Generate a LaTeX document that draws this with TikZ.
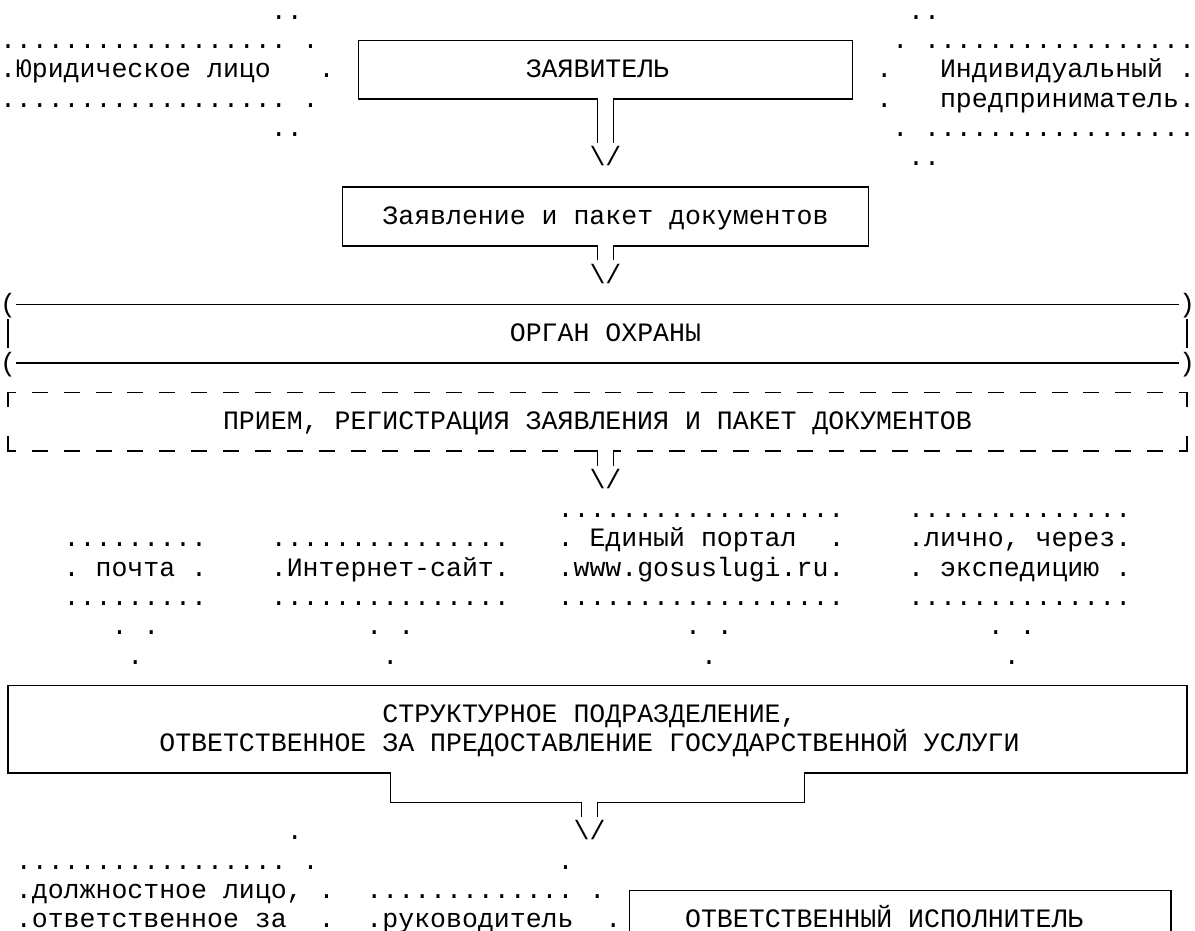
\documentclass[tikz,border=0pt]{standalone}
\usepackage{fontspec}
\newfontfamily\monof{Liberation Mono}
% grid helpers: 75 columns of 15.933pt, rows of 29.3pt
\newcommand\mcx[1]{#1*15.933+7.967}
\newcommand\mcl[1]{#1*15.933}
\newcommand\mly[1]{-11.4-29.3*#1}
\newcommand\mlt[1]{3.25-29.3*#1}
\newcommand\mlb[1]{-26.05-29.3*#1}
\newcommand\mby[1]{-19.4-29.3*#1}
\newcommand\tx[4]{\node[txt] (#1) at ({\mcl{#2}},{\mby{#3}}) {#4};}
\tikzset{
  txt/.style={anchor=base west, inner sep=0pt, outer sep=0pt,
    font=\monof\fontsize{26.55}{29.3}\selectfont\frenchspacing},
  boxline/.style={line width=1.6pt, line join=miter, black},
  dashline/.style={boxline, dash pattern=on 15.933pt off 15.933pt}
}
\begin{document}
\begin{tikzpicture}[x=1pt,y=1pt]
\fill[white] (0,0) rectangle (1195,-931);
\useasboundingbox (0,0) rectangle (1195,-931);

% ---------- top row: applicants ----------
\tx{ula}{17}{0}{..}
\tx{ulb}{0}{1}{..................}
\tx{ulc}{19}{1}{.}
\tx{ul}{0}{2}{.Юридическое лицо}
\tx{uld}{20}{2}{.}
\tx{ule}{0}{3}{..................}
\tx{ulf}{19}{3}{.}
\tx{ulg}{17}{4}{..}

\tx{ura}{57}{0}{..}
\tx{urb}{56}{1}{.}
\tx{urc}{58}{1}{.................}
\tx{urd}{55}{2}{.}
\tx{ip1}{59}{2}{Индивидуальный}
\tx{ure}{74}{2}{.}
\tx{urf}{55}{3}{.}
\tx{ip2}{59}{3}{предприниматель.}
\tx{urg}{56}{4}{.}
\tx{urh}{58}{4}{.................}
\tx{uri}{57}{5}{..}

% ЗАЯВИТЕЛЬ
\tx{zay}{33}{2}{ЗАЯВИТЕЛЬ}
\draw[boxline] ({\mcx{37}},{\mlb{4}}) -- ({\mcx{37}},{\mly{3}}) -- ({\mcx{22}},{\mly{3}})
  -- ({\mcx{22}},{\mly{1}}) -- ({\mcx{53}},{\mly{1}}) -- ({\mcx{53}},{\mly{3}})
  -- ({\mcx{38}},{\mly{3}}) -- ({\mcx{38}},{\mlb{4}});
\tx{ar1}{37}{5}{\textbackslash/}

% Заявление и пакет документов
\tx{zpd}{24}{7}{Заявление и пакет документов}
\draw[boxline] ({\mcx{37}},{\mlb{8}}) -- ({\mcx{37}},{\mly{8}}) -- ({\mcx{21}},{\mly{8}})
  -- ({\mcx{21}},{\mly{6}}) -- ({\mcx{54}},{\mly{6}}) -- ({\mcx{54}},{\mly{8}})
  -- ({\mcx{38}},{\mly{8}}) -- ({\mcx{38}},{\mlb{8}});
\tx{ar2}{37}{9}{\textbackslash/}

% ОРГАН ОХРАНЫ
\tx{pa1}{0}{10}{(}
\tx{pa2}{74}{10}{)}
\tx{pa3}{0}{12}{(}
\tx{pa4}{74}{12}{)}
\tx{org}{32}{11}{ОРГАН ОХРАНЫ}
\draw[boxline] ({\mcl{1}},{\mly{10}}) -- ({\mcl{74}},{\mly{10}});
\draw[boxline] ({\mcl{1}},{\mly{12}}) -- ({\mcl{74}},{\mly{12}});
\draw[boxline] ({\mcx{0}},{\mlt{11}}) -- ({\mcx{0}},{\mlb{11}});
\draw[boxline] ({\mcx{74}},{\mlt{11}}) -- ({\mcx{74}},{\mlb{11}});

% dashed box ПРИЕМ
\tx{pri}{14}{14}{ПРИЕМ, РЕГИСТРАЦИЯ ЗАЯВЛЕНИЯ И ПАКЕТ ДОКУМЕНТОВ}
\draw[boxline] ({\mcx{0}},{\mlb{13}}) -- ({\mcx{0}},{\mly{13}}) -- ({\mcl{1}},{\mly{13}});
\draw[dashline] ({\mcl{2}},{\mly{13}}) -- ({\mcl{73}},{\mly{13}});
\draw[boxline] ({\mcl{74}},{\mly{13}}) -- ({\mcx{74}},{\mly{13}}) -- ({\mcx{74}},{\mlb{13}});
\draw[boxline] ({\mcx{0}},{\mlt{15}}) -- ({\mcx{0}},{\mly{15}}) -- ({\mcl{1}},{\mly{15}});
\draw[dashline] ({\mcl{2}},{\mly{15}}) -- ({\mcl{35}},{\mly{15}});
\draw[boxline] ({\mcl{36}},{\mly{15}}) -- ({\mcx{37}},{\mly{15}}) -- ({\mcx{37}},{\mlb{15}});
\draw[boxline] ({\mcx{38}},{\mlb{15}}) -- ({\mcx{38}},{\mly{15}}) -- ({\mcl{39}},{\mly{15}});
\draw[dashline] ({\mcl{40}},{\mly{15}}) -- ({\mcl{73}},{\mly{15}});
\draw[boxline] ({\mcl{74}},{\mly{15}}) -- ({\mcx{74}},{\mly{15}}) -- ({\mcx{74}},{\mlt{15}});
\tx{ar3}{37}{16}{\textbackslash/}

% ---------- channels ----------
\tx{ea}{35}{17}{..................}
\tx{la}{57}{17}{..............}
\tx{pa}{4}{18}{.........}
\tx{ia}{17}{18}{...............}
\tx{eb}{35}{18}{. Единый портал}
\tx{ec}{52}{18}{.}
\tx{lb}{57}{18}{.лично, через.}
\tx{pb}{4}{19}{. почта .}
\tx{ib}{17}{19}{.Интернет-сайт.}
\tx{ed}{35}{19}{.www.gosuslugi.ru.}
\tx{lc}{57}{19}{. экспедицию .}
\tx{pc}{4}{20}{.........}
\tx{ic}{17}{20}{...............}
\tx{ee}{35}{20}{..................}
\tx{ld}{57}{20}{..............}
\tx{pd}{7}{21}{. .}
\tx{id}{23}{21}{. .}
\tx{ef}{43}{21}{. .}
\tx{le}{62}{21}{. .}
\tx{pe}{8}{22}{.}
\tx{ie}{24}{22}{.}
\tx{eg}{44}{22}{.}
\tx{lf}{63}{22}{.}

% ---------- structural unit ----------
\tx{st1}{24}{24}{СТРУКТУРНОЕ ПОДРАЗДЕЛЕНИЕ,}
\tx{st2}{10}{25}{ОТВЕТСТВЕННОЕ ЗА ПРЕДОСТАВЛЕНИЕ ГОСУДАРСТВЕННОЙ УСЛУГИ}
\draw[boxline] ({\mcx{36}},{\mlb{27}}) -- ({\mcx{36}},{\mly{27}}) -- ({\mcx{24}},{\mly{27}})
  -- ({\mcx{24}},{\mly{26}}) -- ({\mcx{0}},{\mly{26}}) -- ({\mcx{0}},{\mly{23}})
  -- ({\mcx{74}},{\mly{23}}) -- ({\mcx{74}},{\mly{26}}) -- ({\mcx{50}},{\mly{26}})
  -- ({\mcx{50}},{\mly{27}}) -- ({\mcx{37}},{\mly{27}}) -- ({\mcx{37}},{\mlb{27}});
\tx{ar4}{36}{28}{\textbackslash/}

% ---------- bottom row ----------
\tx{da}{18}{28}{.}
\tx{db}{1}{29}{.................}
\tx{dc}{19}{29}{.}
\tx{ra}{35}{29}{.}
\tx{dd}{1}{30}{.должностное лицо, .}
\tx{rb}{23}{30}{............. .}
\tx{de}{1}{31}{.ответственное за}
\tx{df}{20}{31}{.}
\tx{rc}{23}{31}{.руководитель}
\tx{rd}{38}{31}{.}
\tx{oi}{43}{31}{ОТВЕТСТВЕННЫЙ ИСПОЛНИТЕЛЬ}
\draw[boxline] ({\mcx{39}},-940) -- ({\mcx{39}},{\mly{30}}) -- ({\mcx{73}},{\mly{30}}) -- ({\mcx{73}},-940);
\end{tikzpicture}
\end{document}
